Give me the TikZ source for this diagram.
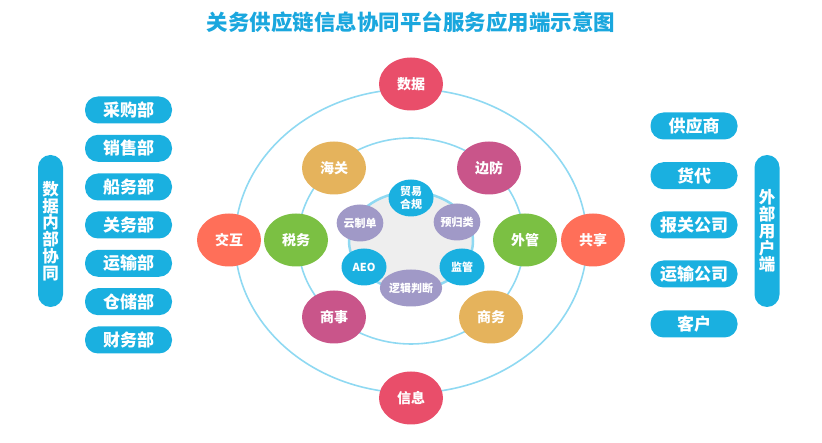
\documentclass[tikz,border=0pt]{standalone}
\usepackage{fontspec}
\setmainfont{Noto Sans CJK SC}
\usepackage{xcolor}
\usepackage{tikz}
\usetikzlibrary{shapes.geometric,positioning,calc}

\definecolor{titleblue}{HTML}{1AA7DE}
\definecolor{pillblue}{HTML}{1AB0E0}
\definecolor{ringblue}{HTML}{8FD9F2}
\definecolor{datared}{HTML}{E94E6A}
\definecolor{coral}{HTML}{FF6F59}
\definecolor{leafgreen}{HTML}{7BC043}
\definecolor{sand}{HTML}{E5B35C}
\definecolor{plum}{HTML}{C9558A}
\definecolor{lilac}{HTML}{A099C7}
\definecolor{coregray}{HTML}{EEEEEE}

\begin{document}
\begin{tikzpicture}[x=1pt, y=-1pt,
    ring/.style={draw=ringblue, line width=1.6pt},
    bignode/.style={ellipse, minimum width=64pt, minimum height=53pt, inner sep=0pt,
        text=white, font=\bfseries\fontsize{14}{14}\selectfont},
    smallnode/.style={ellipse, minimum width=45pt, minimum height=37pt, inner sep=0pt,
        text=white, align=center, font=\bfseries\fontsize{11}{13.5}\selectfont},
    deptpill/.style={rectangle, rounded corners=13pt, fill=pillblue, minimum width=87pt,
        minimum height=27pt, inner sep=0pt, text=white, font=\bfseries\fontsize{17}{17}\selectfont},
    sidepill/.style={rectangle, rounded corners=12.5pt, fill=pillblue, minimum width=25pt,
        minimum height=152pt, inner sep=0pt, text=white, align=center,
        font=\bfseries\fontsize{16.5}{16.8}\selectfont}]
    \useasboundingbox (0,0) rectangle (822,443);

    % Title
    \node[text=titleblue, font=\bfseries\fontsize{21.5}{21.5}\selectfont] (title) at (411,22) {关务供应链信息协同平台服务应用端示意图};

    % Rings
    \draw[ring] (411,241) ellipse [x radius=176pt, y radius=152pt];
    \draw[ring] (411,241) ellipse [x radius=113pt, y radius=103pt];
    \draw[draw=ringblue, line width=2.5pt, fill=coregray] (411,241) ellipse [x radius=62pt, y radius=49pt];

    % Outer ring nodes
    \node[bignode, fill=datared] (shuju) at (411,84) {数据};
    \node[bignode, fill=coral] (jiaohu) at (229,240) {交互};
    \node[bignode, fill=coral] (gongxiang) at (593,240) {共享};
    \node[bignode, fill=datared] (xinxi) at (411,398) {信息};

    % Middle ring nodes
    \node[bignode, fill=sand] (haiguan) at (334,168) {海关};
    \node[bignode, fill=plum] (bianfang) at (489,168) {边防};
    \node[bignode, fill=leafgreen] (shuiwu) at (296,240) {税务};
    \node[bignode, fill=leafgreen] (waiguan) at (525,240) {外管};
    \node[bignode, fill=plum] (shangshi) at (334,317) {商事};
    \node[bignode, fill=sand] (shangwu) at (491,317) {商务};

    % Core nodes
    \node[smallnode, fill=pillblue] (maoyi) at (411,198) {贸易\\合规};
    \node[smallnode, fill=lilac] (yugui) at (457,222) {预归类};
    \node[smallnode, fill=pillblue] (jianguan) at (462,267) {监管};
    \node[smallnode, fill=lilac] (luoji) at (411,288) {逻辑判断};
    \node[smallnode, fill=pillblue] (aeo) at (364,267) {AEO};
    \node[smallnode, fill=lilac] (yunzhidan) at (360,223) {云制单};

    % Left: internal departments
    \foreach \name/\y/\txt in {caigou/110/采购部, xiaoshou/148.3/销售部, chuanwu/187/船务部,
        guanwu/225/关务部, yunshu/263.3/运输部, cangchu/301.7/仓储部, caiwu/340/财务部} {
        \node[deptpill] (\name) at (128.5,\y) {\txt};
    }
    \node[sidepill] (neibu) at (50.5,231) {数\\据\\内\\部\\协\\同};

    % Right: external users
    \foreach \name/\y/\txt in {gongying/126/供应商, huodai/175.7/货代, baoguan/225/报关公司,
        yunshugs/274/运输公司, kehu/324/客户} {
        \node[deptpill] (\name) at (694,\y) {\txt};
    }
    \node[sidepill] (waibu) at (767,231) {外\\部\\用\\户\\端};
\end{tikzpicture}
\end{document}
